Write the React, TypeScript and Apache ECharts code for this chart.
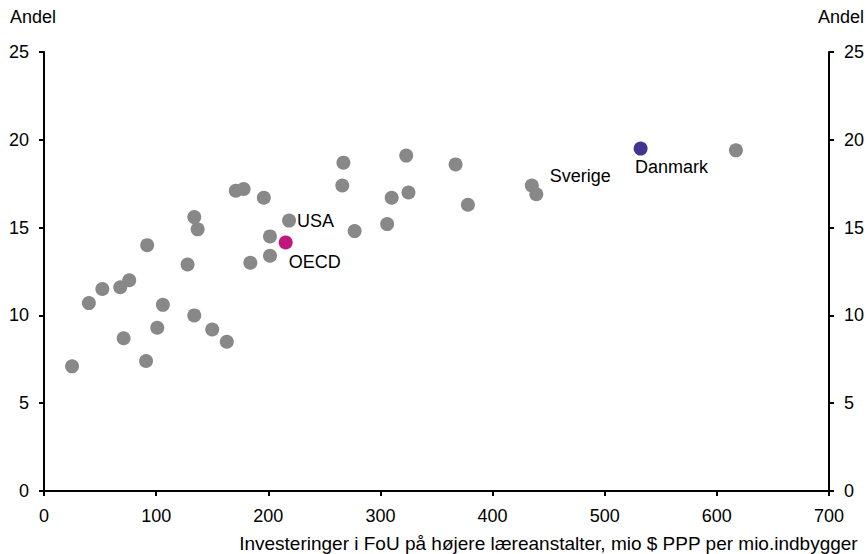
import React, { useEffect, useRef } from "react";
import * as echarts from "echarts";

const grayX = [25, 40, 52, 68, 76, 71, 92, 91, 101, 106, 128, 134, 137, 134, 150, 163, 171, 178, 196, 184, 201.5, 201.5, 277, 266, 267, 306, 310, 325, 323, 367, 378, 439, 617];
const grayY = [7.1, 10.7, 11.5, 11.6, 12.0, 8.7, 14.0, 7.4, 9.3, 10.6, 12.9, 15.6, 14.9, 10.0, 9.2, 8.5, 17.1, 17.2, 16.7, 13.0, 14.5, 13.4, 14.8, 17.4, 18.7, 15.2, 16.7, 17.0, 19.1, 18.6, 16.3, 16.9, 19.4];
const usa = [218.5, 15.4];
const sverige = [435, 17.4];
const oecd = [215.5, 14.15];
const danmark = [532, 19.5];
const xTicks = [0, 700, 100];
const yTicks = [0, 25, 5];
const xTitle = "Investeringer i FoU på højere læreanstalter, mio $ PPP per mio.indbygger";
const yName = "Andel";

const FONT = "'Liberation Sans', Arial, sans-serif";
const FS = 18;
const GRAY = "#888888";

export default function App() {
  const ref = useRef<HTMLDivElement>(null);
  useEffect(() => {
    const chart = echarts.init(ref.current!, null, { renderer: "svg" });
    const axisCommon = {
      axisLine: { show: true, lineStyle: { color: "#000", width: 2 } },
      axisTick: { show: true, length: 5, lineStyle: { color: "#000", width: 2 } },
      splitLine: { show: false },
      axisLabel: { color: "#000", fontSize: FS, fontFamily: FONT },
    };
    const yAxis = (pos: string) => ({
      type: "value",
      position: pos,
      min: yTicks[0],
      max: yTicks[1],
      interval: yTicks[2],
      ...axisCommon,
      axisLabel: { ...axisCommon.axisLabel, margin: 15 },
    });
    const labelStyle = { color: "#000", fontSize: FS, fontFamily: FONT };
    chart.setOption({
      animation: false,
      textStyle: { fontFamily: FONT },
      grid: { left: 44, right: 39, top: 52, bottom: 63 },
      xAxis: {
        type: "value",
        min: xTicks[0],
        max: xTicks[1],
        interval: xTicks[2],
        ...axisCommon,
        axisLabel: { ...axisCommon.axisLabel, margin: 16 },
      },
      yAxis: [yAxis("left"), yAxis("right")],
      graphic: [
        { type: "text", left: 10, top: 8, style: { text: yName, fontSize: FS, fontFamily: FONT, fill: "#000" } },
        { type: "text", right: 4, top: 8, style: { text: yName, fontSize: FS, fontFamily: FONT, fill: "#000" } },
        { type: "text", right: 10, top: 534, style: { text: xTitle, fontSize: 19, fontFamily: FONT, fill: "#000" } },
      ],
      series: [
        {
          type: "scatter",
          symbolSize: 14,
          itemStyle: { color: GRAY, opacity: 1 },
          data: grayX.map((x, i) => [x, grayY[i]]),
        },
        {
          type: "scatter",
          symbolSize: 14,
          itemStyle: { color: GRAY, opacity: 1 },
          data: [
            { value: usa, label: { show: true, formatter: "USA", position: "right", distance: 1, ...labelStyle } },
            { value: sverige, label: { show: true, formatter: "Sverige", position: "right", offset: [6, -9], ...labelStyle } },
          ],
        },
        {
          type: "scatter",
          symbolSize: 14,
          itemStyle: { color: "#c0177f", opacity: 1 },
          data: [{ value: oecd, label: { show: true, formatter: "OECD", position: "bottom", offset: [29, 0], distance: 3, ...labelStyle } }],
        },
        {
          type: "scatter",
          symbolSize: 14,
          itemStyle: { color: "#45348f", opacity: 1 },
          data: [{ value: danmark, label: { show: true, formatter: "Danmark", position: "bottom", offset: [31, 0], distance: 2, ...labelStyle } }],
        },
      ],
    });
    return () => chart.dispose();
  }, []);
  return <div ref={ref} style={{ width: 868, height: 554, position: "absolute", left: 0, top: 0 }} />;
}
